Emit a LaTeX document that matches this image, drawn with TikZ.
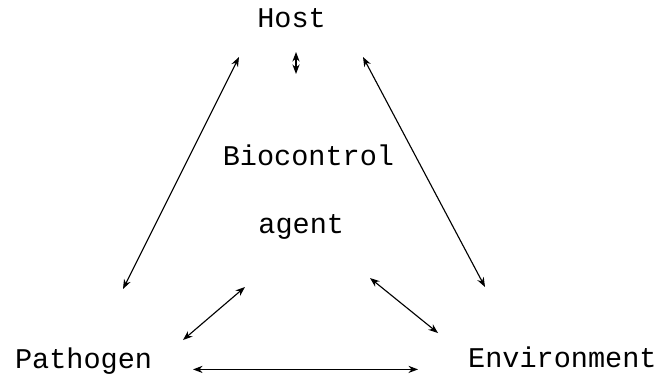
\documentclass[tikz,border=0pt]{standalone}
\usepackage{fontspec}
\setmonofont{Liberation Mono}
\usetikzlibrary{arrows.meta}

\begin{document}
\begin{tikzpicture}[
  >={Stealth[length=2.4mm,width=1.8mm]},
  every node/.style={font=\ttfamily\fontsize{20.3}{23}\selectfont, inner sep=0pt},
  label/.style={anchor=base},
  link/.style={<->, line width=0.8pt},
]
\useasboundingbox (0, 0) rectangle (16.525, 9.425);

% Labels
\node[label] (host)  at (7.29, 8.75)  {Host};
\node[label] (bio)   at (7.71, 5.30) {Biocontrol};
\node[label] (agent) at (7.53, 3.60)  {agent};
\node[label] (patho) at (2.09, 0.225) {Pathogen};
\node[label] (env)   at (14.06, 0.25) {Environment};

% Arrow ends
\coordinate (hb) at (7.40, 8.125);
\coordinate (bt) at (7.40, 7.575);
\coordinate (hl) at (5.975, 8.0);
\coordinate (pl) at (3.075, 2.20);
\coordinate (hr) at (9.075, 8.0);
\coordinate (er) at (12.125, 2.25);
\coordinate (al) at (6.125, 2.25);
\coordinate (pa) at (4.575, 0.925);
\coordinate (ar) at (9.25, 2.475);
\coordinate (ea) at (10.95, 1.10);
\coordinate (pe) at (4.825, 0.19);
\coordinate (ep) at (10.45, 0.19);

% Interactions
\draw[link] (hb) -- (bt);
\draw[link] (hl) -- (pl);
\draw[link] (hr) -- (er);
\draw[link] (al) -- (pa);
\draw[link] (ar) -- (ea);
\draw[link] (pe) -- (ep);
\end{tikzpicture}
\end{document}
